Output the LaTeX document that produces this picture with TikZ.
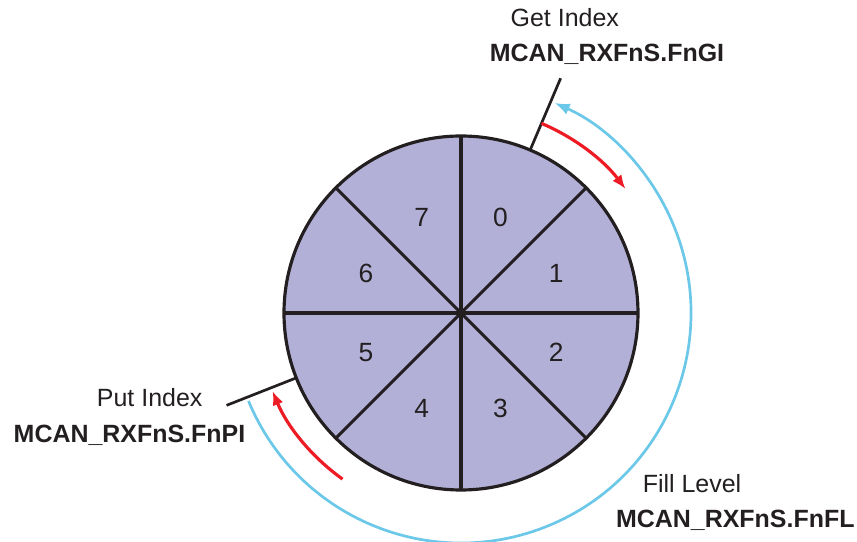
\documentclass[tikz,border=0pt]{standalone}
\usepackage{fontspec}
\setmainfont{Liberation Sans}
\usetikzlibrary{arrows.meta}
\definecolor{ranura}{RGB}{178,176,215}
\definecolor{rojo}{RGB}{237,28,36}
\definecolor{celeste}{RGB}{108,200,232}
\definecolor{negro}{RGB}{35,31,32}
\tikzset{
  borde/.style={draw=negro, line width=2.7pt},
  marca/.style={negro, line width=2.3pt},
  avance/.style={rojo, line width=2.7pt, -{Latex[length=12pt,width=9.5pt]}},
  nivel/.style={celeste, line width=2.3pt, -{Latex[length=13pt,width=10pt]}},
  etiqueta/.style={anchor=base, inner sep=0pt},
}
\begin{document}
\begin{tikzpicture}[x=0.03cm, y=0.03cm,
  every node/.append style={font=\fontsize{21.3}{25}\selectfont, text=negro}]
  \useasboundingbox (-461,-229) rectangle (396,313);
  \coordinate (c) at (0,0);
  % buffer circular
  \fill[ranura] (c) circle (177);
  \foreach \a in {0,45,90,135}
    \draw[borde] (\a:177) -- (\a+180:177);
  \draw[borde] (c) circle (177);
  \foreach \i in {0,...,7}
    \node[font=\fontsize{22.5}{25}\selectfont] (n\i) at ({67.5-45*\i}:103) {\i};
  % get index
  \draw[marca] (67:177) -- (67:255) coordinate (gi);
  \node[etiqueta] (get) at (103.8,286.3) {Get Index};
  \node[etiqueta] (getreg) at (146,251.3) {\textbf{MCAN\_RXFnS.FnGI}};
  \draw[avance] (67:206) arc (67:37:206);
  % put index
  \draw[marca] (201.5:177) -- (201.5:252) coordinate (pi);
  \node[etiqueta] (put) at (-311.3,-93.7) {Put Index};
  \node[etiqueta] (putreg) at (-331.5,-129.7) {\textbf{MCAN\_RXFnS.FnPI}};
  \draw[avance] (234.5:204) arc (234.5:202.5:204);
  % fill level
  \draw[nivel] (202.5:230) arc (202.5:426:230);
  \node[etiqueta] (fill) at (231,-179.7) {Fill Level};
  \node[etiqueta] (fillreg) at (274.3,-214.7) {\textbf{MCAN\_RXFnS.FnFL}};
\end{tikzpicture}
\end{document}
